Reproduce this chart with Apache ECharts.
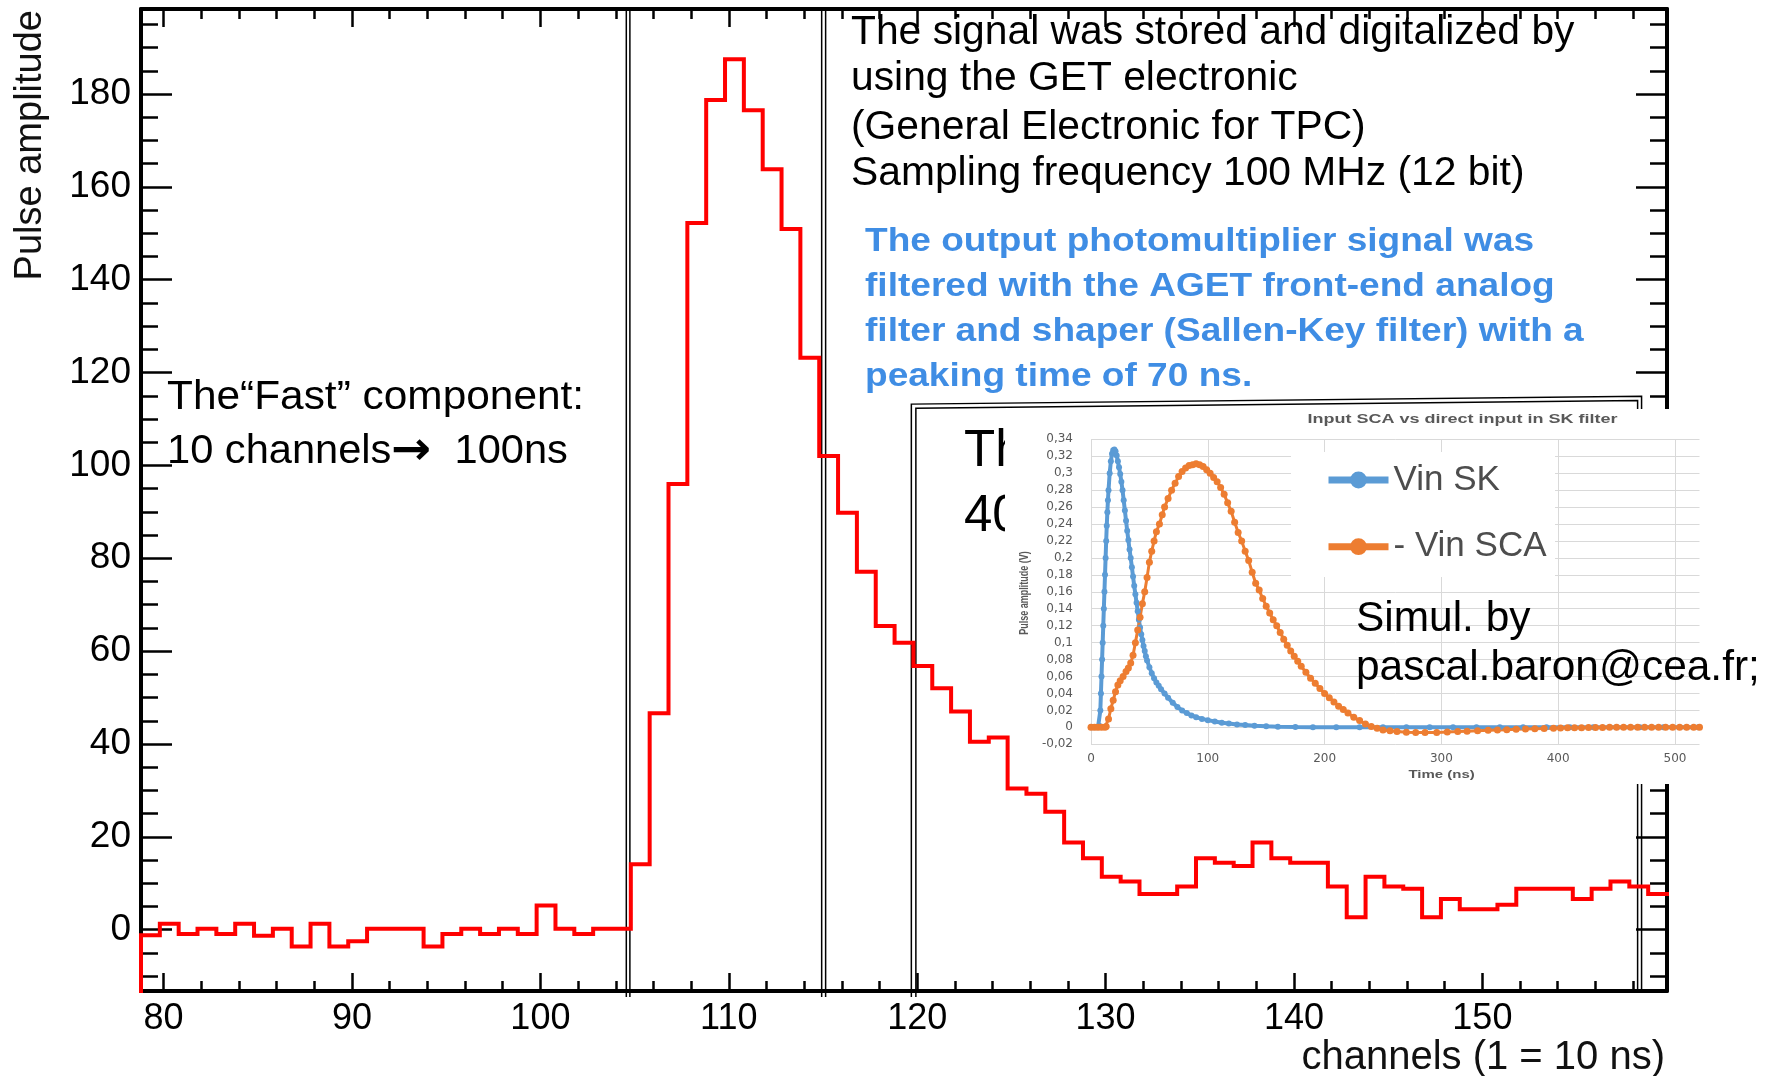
<!DOCTYPE html>
<html><head><meta charset="utf-8">
<script src="https://cdn.jsdelivr.net/npm/echarts@6/dist/echarts.min.js"></script>
<style>html,body{margin:0;padding:0;background:#fff}#c{width:1772px;height:1076px}</style>
</head><body><div id="c"></div>
<script>
// ---------------- main histogram data ----------------
const channels = [79,80,81,82,83,84,85,86,87,88,89,90,91,92,93,94,95,96,97,98,99,100,
  101,102,103,104,105,106,107,108,109,110,111,112,113,114,115,116,117,118,119,120,
  121,122,123,124,125,126,127,128,129,130,131,132,133,134,135,136,137,138,139,140,
  141,142,143,144,145,146,147,148,149,150,151,152,153,154,155,156,157,158,159];
const pulseAmplitude = [-1.2,1.3,-0.9,0.2,-0.9,1.3,-1.3,0.2,-3.6,1.3,-3.6,-2.5,0.2,0.2,0.2,-3.6,-0.9,0.2,-0.9,0.2,-0.9,5.2,
  0.2,-0.9,0.2,0.2,14.1,46.6,96.0,152.2,178.7,187.5,176.5,163.8,150.9,123.2,102.0,89.8,77.1,65.4,61.8,56.8,
  52.0,47.0,40.5,41.4,30.4,29.3,25.4,18.8,15.4,11.4,10.4,7.7,7.7,9.3,15.4,14.4,13.7,18.8,15.4,14.4,
  14.4,9.3,2.7,11.4,9.3,8.8,2.7,6.6,4.4,4.4,5.4,8.8,8.8,8.8,6.6,8.8,10.4,9.3,7.7];
const xTickLabels = [80,90,100,110,120,130,140,150];
const xMinorTicks = [80,82,84,86,88,90,92,94,96,98,100,102,104,106,108,110,112,114,116,118,120,122,124,126,128,130,132,134,136,138,140,142,144,146,148,150,152,154,156,158];
const yTickLabels = [0,20,40,60,80,100,120,140,160,180];
const yMinorTicks = [-10,-5,0,5,10,15,20,25,30,35,40,45,50,55,60,65,70,75,80,85,90,95,100,105,110,115,120,125,130,135,140,145,150,155,160,165,170,175,180,185,190,195];

// ---------------- inset simulation data ----------------
const skTime = [0,2,4,6,7,8,8.5,9,9.5,10,10.5,11,11.5,12,12.5,13,13.5,14,14.5,15,16,17,18,19,20,21,22,23,24,25,26,27,28,29,30,31,32,33,34,35,36,37,38,39,40,41,42,43,44,45,46,47,48,50,52,54,56,58,60,63,66,70,74,78,82,86,90,95,100,106,112,118,125,132,140,150,160,175,190,210,230,250,270,290,310,330,350,370,390,410,430,450,470,490,510,520];
const vinSK = [0,0,0,0,0.002,0.02,0.04,0.06,0.08,0.1,0.12,0.14,0.16,0.18,0.2,0.22,0.238,0.254,0.268,0.28,0.3,0.314,0.323,0.327,0.328,0.326,0.321,0.314,0.307,0.299,0.29,0.28,0.268,0.256,0.244,0.232,0.221,0.21,0.2,0.189,0.178,0.167,0.157,0.147,0.137,0.127,0.118,0.11,0.103,0.096,0.09,0.084,0.079,0.071,0.064,0.058,0.053,0.049,0.045,0.04,0.035,0.029,0.024,0.02,0.017,0.014,0.012,0.01,0.0085,0.007,0.0055,0.0045,0.0035,0.0027,0.002,0.0013,0.0008,0.0004,0.0002,0.0001,0,0,0,0,0,0,0,0,0,0,0,0,0,0,0,0];
const scaTime = [0,3,6,9,12,13,15,17,19,21,23,25,27.5,30,32,34,36,38,40,42,44,46,48,50,52,54,56,58.6,61,63,66,69,72,75,78,81,84,87,90,93,96,99,102,105,108,111,114,117,120,123,126,129,132,135,138,141,144,147,150,153,156,159,162,165,168,171,174,177,180,184,188,192,196,200,204,208,212,216,220,225,230,235,240,245,250,256,262,270,278,286,296,305,314,322,331,340,348,356,364,372,380,388,396,402,408,414,420,426,432,438,444,450,456,462,468,474,480,486,492,498,504,510,516,521];
const vinSCA = [0,0,0,0,0,0.001,0.01,0.022,0.032,0.042,0.05,0.055,0.06,0.066,0.07,0.076,0.085,0.1,0.115,0.13,0.146,0.16,0.177,0.195,0.208,0.22,0.231,0.24,0.251,0.26,0.27,0.28,0.288,0.296,0.302,0.306,0.309,0.31,0.311,0.31,0.308,0.304,0.3,0.295,0.29,0.283,0.275,0.265,0.255,0.242,0.23,0.22,0.208,0.197,0.183,0.17,0.162,0.152,0.143,0.135,0.127,0.12,0.112,0.104,0.097,0.09,0.084,0.078,0.072,0.065,0.058,0.052,0.046,0.04,0.035,0.03,0.025,0.021,0.017,0.012,0.008,0.004,0.001,-0.001,-0.003,-0.004,-0.005,-0.0058,-0.006,-0.006,-0.006,-0.0055,-0.005,-0.0045,-0.004,-0.0035,-0.003,-0.0027,-0.0023,-0.002,-0.0017,-0.0014,-0.001,-0.0008,-0.0006,-0.0005,-0.0004,-0.0003,-0.0002,-0.0001,0,0,0,0,0,0,0,0,0,0,0,0,0,0];

// ---------------- layout / style constants ----------------
const FONT = '"Liberation Sans", Arial, Helvetica, sans-serif';
const BIN_LOW_OFFSET = -0.2;             // bin c covers [c-0.2, c+0.8]
const X_MIN = channels[0] + BIN_LOW_OFFSET;
const X_MAX = channels[channels.length - 1] + BIN_LOW_OFFSET + 1;
const Y_MIN = -13.2, Y_MAX = 198.3;
const BLUE = '#5B9BD5', ORANGE = '#ED7D31', GRAYTXT = '#595959';

const histPoints = [[X_MIN, Y_MIN]];
channels.forEach((c, i) => {
  const lo = c + BIN_LOW_OFFSET;
  histPoints.push([lo, pulseAmplitude[i]], [lo + 1, pulseAmplitude[i]]);
});
const skPoints = skTime.map((t, i) => [t, vinSK[i]]);
const scaPoints = scaTime.map((t, i) => [t, vinSCA[i]]);

function mainX(position, ticks, len, line, labels) {
  return {
    type: 'value', gridIndex: 0, position, min: X_MIN, max: X_MAX,
    axisLine: { show: line, onZero: false, lineStyle: { color: '#000', width: 4 } },
    axisTick: { show: true, inside: true, length: len, customValues: ticks, lineStyle: { color: '#000', width: 2.5 } },
    axisLabel: labels ? { show: true, customValues: ticks, margin: 10, fontSize: 36, color: '#000', fontFamily: FONT }
                      : { show: false },
    splitLine: { show: false }
  };
}
function mainY(position, ticks, len, line, labels) {
  return {
    type: 'value', gridIndex: 0, position, min: Y_MIN, max: Y_MAX,
    axisLine: { show: line, onZero: false, lineStyle: { color: '#000', width: 4 } },
    axisTick: { show: true, inside: true, length: len, customValues: ticks, lineStyle: { color: '#000', width: 2.5 } },
    axisLabel: labels ? { show: true, customValues: ticks, margin: 10, fontSize: 37, color: '#000', fontFamily: FONT }
                      : { show: false },
    splitLine: { show: false }
  };
}

const chart = echarts.init(document.getElementById('c'), null, { renderer: 'canvas', width: 1772, height: 1076 });

chart.setOption({
  animation: false,
  backgroundColor: '#fff',
  grid: [
    { left: 141, top: 9, width: 1526, height: 982, containLabel: false },
    { left: 1091, top: 439.3, width: 608.5, height: 305, containLabel: false }
  ],
  xAxis: [
    mainX('bottom', xTickLabels, 18, true, true),
    mainX('bottom', xMinorTicks, 10, false, false),
    mainX('top', xTickLabels, 18, true, false),
    mainX('top', xMinorTicks, 10, false, false),
    {
      type: 'value', gridIndex: 1, position: 'bottom', min: 0, max: 521, interval: 100, z: 11,
      axisLine: { show: false, onZero: false }, axisTick: { show: false },
      axisLabel: { fontSize: 12, color: GRAYTXT, fontFamily: '"DejaVu Sans", sans-serif', margin: 9, showMaxLabel: false },
      splitLine: { show: true, showMaxLine: false, lineStyle: { color: '#d9d9d9', width: 1 } }
    }
  ],
  yAxis: [
    mainY('left', yTickLabels, 31, true, true),
    mainY('left', yMinorTicks, 17, false, false),
    mainY('right', yTickLabels, 31, true, false),
    mainY('right', yMinorTicks, 17, false, false),
    {
      type: 'value', gridIndex: 1, position: 'left', min: -0.02, max: 0.34, interval: 0.02, z: 11,
      axisLine: { show: false, onZero: false }, axisTick: { show: false },
      axisLabel: { fontSize: 12, color: GRAYTXT, fontFamily: '"DejaVu Sans", sans-serif', margin: 18,
        formatter: v => String(+(+v).toFixed(2)).replace('.', ',') },
      splitLine: { show: true, lineStyle: { color: '#d9d9d9', width: 1 } }
    }
  ],
  legend: {
    show: true, orient: 'vertical', left: 1325, top: 460, padding: 0,
    itemWidth: 60, itemHeight: 21, itemGap: 26.7, z: 14,
    data: ['Vin SK', '- Vin SCA'],
    lineStyle: { width: 7 },
    textStyle: { fontSize: 35, color: '#4d4d4d', fontFamily: FONT, lineHeight: 40 }
  },
  series: [
    {
      name: 'Pulse amplitude', type: 'line', xAxisIndex: 0, yAxisIndex: 0, data: histPoints,
      showSymbol: false, symbol: 'none', z: 12,
      lineStyle: { color: '#ff0000', width: 4, join: 'miter', cap: 'square' }, silent: true
    },
    {
      name: 'Vin SK', type: 'line', xAxisIndex: 4, yAxisIndex: 4, data: skPoints,
      symbol: 'circle', symbolSize: 6, showAllSymbol: true, z: 13,
      lineStyle: { color: BLUE, width: 4 }, itemStyle: { color: BLUE }, silent: true
    },
    {
      name: '- Vin SCA', type: 'line', xAxisIndex: 4, yAxisIndex: 4, data: scaPoints,
      symbol: 'circle', symbolSize: 7, showAllSymbol: true, z: 13,
      lineStyle: { color: ORANGE, width: 3 }, itemStyle: { color: ORANGE }, silent: true
    }
  ]
});

// -------- annotations (positions resolved through the main axes) --------
const P = (x, y) => chart.convertToPixel({ xAxisIndex: 0, yAxisIndex: 0 }, [x, y]);
const guideX = [104.56, 104.75, 114.93, 115.14];
const GUIDE_TOP = 198.7, GUIDE_BOTTOM = -14.5;
const box = {
  outer: [[119.69, -14.5], [119.69, 113.2], [158.45, 114.9], [158.45, -13.2]],
  inner: [[119.93, -14.5], [119.93, 112.3], [158.24, 114.0], [158.24, -13.2]]
};

function txt(text, x, y, size, opts = {}) {
  const style = {
    text, fill: opts.fill || '#000', fontSize: size, fontFamily: opts.family || FONT,
    fontWeight: opts.weight || 'normal', align: opts.align || 'left', verticalAlign: 'middle'
  };
  if (opts.rich) style.rich = opts.rich;
  return Object.assign({ type: 'text', x, y, z: 6, silent: true, style }, opts.el || {});
}

const elements = [];
guideX.forEach(g => {
  elements.push({ type: 'polyline', z: 5, silent: true,
    shape: { points: [P(g, GUIDE_TOP), P(g, GUIDE_BOTTOM)] },
    style: { stroke: '#000', lineWidth: 1.5, fill: null } });
});
['outer', 'inner'].forEach(k => {
  elements.push({ type: 'polyline', z: 5, silent: true,
    shape: { points: box[k].map(p => P(p[0], p[1])) },
    style: { stroke: '#000', lineWidth: 1.5, fill: null } });
});

// main text blocks
['The signal was stored and digitalized by', 'using the GET electronic',
 '(General Electronic for TPC)', 'Sampling frequency 100 MHz (12 bit)'].forEach((t, i) => {
  elements.push(txt(t, 851, [32.8, 79.4, 127.8, 174.4][i], 40, { el: { scaleX: 1.02 } }));
});
['The output photomultiplier signal was', 'filtered with the AGET front-end analog',
 'filter and shaper (Sallen-Key filter) with a', 'peaking time of 70 ns.'].forEach((t, i) => {
  elements.push(txt(t, 865, [241.5, 286.5, 331.5, 376.5][i], 34, { weight: 'bold', fill: '#3F8DE4', el: { scaleX: 1.09 } }));
});
elements.push(txt('The\u201CFast\u201D component:', 167, 398, 40, { el: { scaleX: 1.06 } }));
elements.push(txt('10 channels{a|\u2192}  100ns', 167, 452, 40, {
  el: { scaleX: 1.04 },
  rich: { a: { fontFamily: '"DejaVu Sans", sans-serif', fontWeight: 'bold', fontSize: 46, fill: '#000' } }
}));
elements.push(txt('Th', 964, 452.3, 51));
elements.push(txt('40', 964, 517.3, 51));

// axis titles
elements.push(txt('Pulse amplitude', 30.5, 10, 38, { align: 'right', fill: '#111', el: { rotation: Math.PI / 2 } }));
elements.push(txt('channels (1 = 10 ns)', 1665, 1058, 40, { align: 'right', fill: '#111' }));

// inset picture background and legend box
elements.push({ type: 'rect', z: 10, silent: true, shape: { x: 1005, y: 409, width: 767, height: 375 }, style: { fill: '#fff' } });
elements.push({ type: 'rect', z: 12, silent: true, shape: { x: 1291, y: 452, width: 264, height: 125 }, style: { fill: '#fff' } });

// inset texts
elements.push(Object.assign(txt('Input SCA vs direct input in SK filter', 1462.6, 420, 12, { weight: 'bold', fill: GRAYTXT, align: 'center', el: { scaleX: 1.5 } }), { z: 15 }));
elements.push(Object.assign(txt('Time (ns)', 1441.6, 775.3, 10, { weight: 'bold', fill: GRAYTXT, align: 'center', el: { scaleX: 1.5 } }), { z: 15 }));
elements.push(Object.assign(txt('Pulse amplitude (V)', 1024.7, 593, 9, { weight: 'bold', fill: GRAYTXT, align: 'center', el: { rotation: Math.PI / 2, scaleY: 1.5 } }), { z: 15 }));
elements.push(Object.assign(txt('Simul. by', 1356, 619.7, 42, { el: { scaleX: 1.01 } }), { z: 15 }));
elements.push(Object.assign(txt('pascal.baron@cea.fr;', 1356, 668.7, 42, { el: { scaleX: 1.01 } }), { z: 15 }));

chart.setOption({ graphic: { elements } });
</script></body></html>
